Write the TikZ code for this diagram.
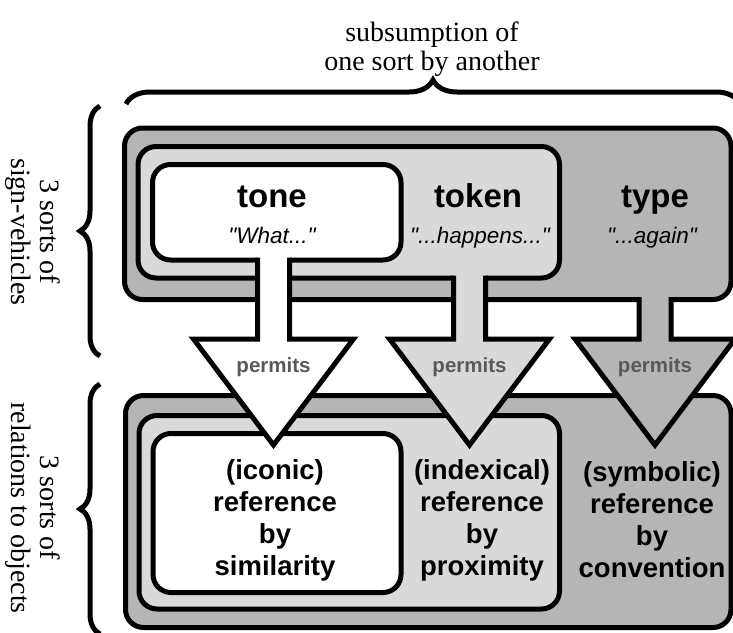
\documentclass[tikz,border=0pt]{standalone}
\usepackage{fontspec}
\setmainfont{Liberation Serif}
\setsansfont{Liberation Sans}
\usepackage{tikz}
\usetikzlibrary{decorations.pathreplacing}
\definecolor{outergray}{gray}{0.71}
\definecolor{midgray}{gray}{0.85}
\definecolor{permitgray}{gray}{0.35}
\tikzset{box/.style={line width=5pt, rounded corners=18pt}}
\tikzset{bigbrace/.style={decorate, decoration={brace, amplitude=20pt}, line width=5pt}}
\tikzset{sorttext/.style={font=\fontsize{28}{29}\selectfont, align=center}}
\tikzset{headtext/.style={font=\sffamily\bfseries\fontsize{33}{36}\selectfont, anchor=base}}
\tikzset{quotetext/.style={font=\sffamily\itshape\fontsize{22.5}{26}\selectfont, anchor=base}}
\tikzset{permtext/.style={font=\sffamily\bfseries\fontsize{20.5}{24}\selectfont, text=permitgray, anchor=base}}
\tikzset{reftext/.style={font=\sffamily\bfseries\fontsize{27.5}{32}\selectfont, align=center}}

\begin{document}
\begin{tikzpicture}[x=1pt, y=-1pt]
\useasboundingbox (0,0) rectangle (733,632);
\draw[bigbrace, decoration={amplitude=24pt}] (126,104) -- (740,104);
\node[sorttext] (subsume) at (432,49) {subsumption of\\one sort by another};
\draw[bigbrace] (100,356) -- (100,106);
\node[sorttext, rotate=-90] (vehicles) at (33,232) {3 sorts of\\sign-vehicles};
\draw[bigbrace] (100,634) -- (100,384);
\node[sorttext, rotate=-90] (relations) at (33,508) {3 sorts of\\relations to objects};
% lower boxes
\draw[box, fill=outergray] (125.5,395.5) rectangle (731,627.5);
\draw[box, fill=midgray] (139,415.5) rectangle (559.5,609);
\draw[box, fill=white] (153,433.5) rectangle (401,592.5);
% upper boxes
\draw[box, fill=outergray] (124.5,128) rectangle (731,299.5);
\draw[box, fill=midgray] (138,146.5) rectangle (559.5,278);
\draw[box, fill=white] (152.5,164.5) rectangle (401,260);
\foreach \cx/\yb/\col/\nm in {273.5/260/white/a, 469.5/278/midgray/b, 655/299.5/outergray/c} {
\fill[\col] (\cx-16,\yb-3) -- (\cx-16,339) -- (\cx-80,339) -- (\cx,445) -- (\cx+80,339) -- (\cx+16,339) -- (\cx+16,\yb-3) -- cycle;
\draw[line width=5pt] (\cx-16,\yb-2.5) -- (\cx-16,339) -- (\cx-80,339) -- (\cx,445) -- (\cx+80,339) -- (\cx+16,339) -- (\cx+16,\yb-2.5);
\node[permtext] (permits-\nm) at (\cx,372) {permits};
}
\node[headtext] (tone) at (272,207) {tone};
\node[quotetext] (what) at (272,243) {\textquotedbl What...\textquotedbl};
\node[headtext] (token) at (478,207) {token};
\node[quotetext] (happens) at (480,243) {\textquotedbl...happens...\textquotedbl};
\node[headtext] (type) at (655,207) {type};
\node[quotetext] (again) at (652,243) {\textquotedbl...again\textquotedbl};
\node[reftext] (iconic) at (275,520) {(iconic)\\reference\\by\\similarity};
\node[reftext] (indexical) at (482,520) {(indexical)\\reference\\by\\proximity};
\node[reftext] (symbolic) at (652,520) {(symbolic)\\reference\\by\\convention};
\end{tikzpicture}
\end{document}
